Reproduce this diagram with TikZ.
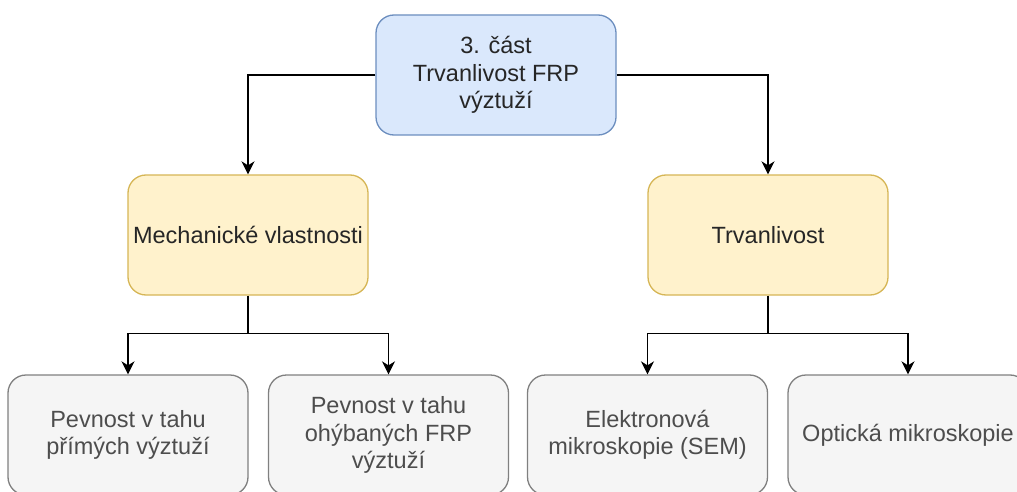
\documentclass[tikz,border=0pt]{standalone}
\usepackage{fontspec}
\setmainfont{Liberation Sans}
\usetikzlibrary{arrows.meta,calc}
\definecolor{bluefill}{HTML}{DAE8FC}
\definecolor{bluedraw}{HTML}{6C8EBF}
\definecolor{yelfill}{HTML}{FFF2CC}
\definecolor{yeldraw}{HTML}{D6B656}
\definecolor{grayfill}{HTML}{F5F5F5}
\definecolor{graydraw}{HTML}{808080}
\definecolor{darktext}{HTML}{262626}
\definecolor{graytext}{HTML}{4D4D4D}
\tikzset{
  box/.style={rectangle, rounded corners=18pt, minimum width=240pt, minimum height=120pt,
    inner sep=0pt, align=center, line width=1.3pt,
    font=\fontsize{23.5}{27.5}\selectfont},
  bluebox/.style={box, fill=bluefill, draw=bluedraw, text=darktext},
  yelbox/.style={box, fill=yelfill, draw=yeldraw, text=darktext},
  graybox/.style={box, fill=grayfill, draw=graydraw, text=graytext},
  arr/.style={line width=1.6pt, draw=black, -{Stealth[length=13pt,width=13pt,inset=4pt]}}
}
\begin{document}
\begin{tikzpicture}[x=1pt,y=-1pt]
\clip (0,0) rectangle (1017,492);
\fill[white] (0,0) rectangle (1017,492);
\node[bluebox] (top) at (496,75) {3. část\\Trvanlivost FRP\\výztuží};
\node[yelbox] (mech) at (248,235) {Mechanické vlastnosti};
\node[yelbox] (trv) at (768,235) {Trvanlivost};
\node[graybox] (b1) at (128,435) {Pevnost v tahu\\přímých výztuží};
\node[graybox] (b2) at (388.5,435) {Pevnost v tahu\\ohýbaných FRP\\výztuží};
\node[graybox] (b3) at (647.5,435) {Elektronová\\mikroskopie (SEM)};
\node[graybox] (b4) at (908,435) {Optická mikroskopie};
\coordinate (j1) at ($(mech.south)+(0,38)$);
\coordinate (j2) at ($(trv.south)+(0,38)$);
\draw[arr] (top.west) -| (mech.north);
\draw[arr] (top.east) -| (trv.north);
\draw[line width=1.6pt] (mech.south) -- (j1);
\draw[arr] (j1) -| (b1.north);
\draw[arr] (j1) -| (b2.north);
\draw[line width=1.6pt] (trv.south) -- (j2);
\draw[arr] (j2) -| (b3.north);
\draw[arr] (j2) -| (b4.north);
\end{tikzpicture}
\end{document}
